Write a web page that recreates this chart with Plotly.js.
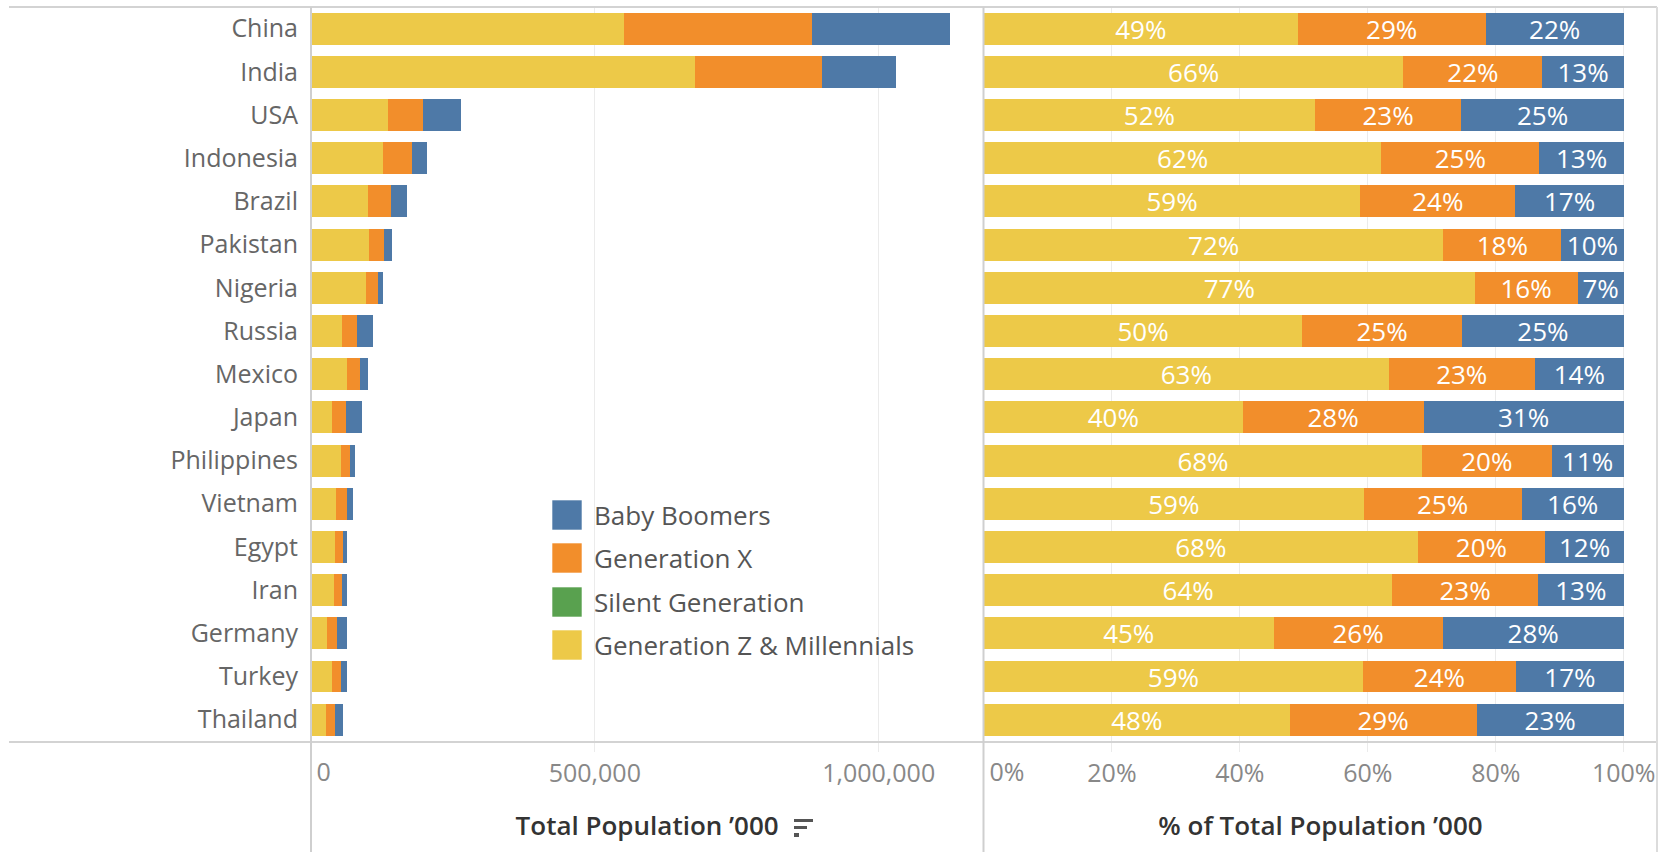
<!DOCTYPE html>
<html>
<head>
<meta charset="utf-8">
<script src="https://cdn.plot.ly/plotly-3.0.1.min.js"></script>
<style>
html,body{margin:0;padding:0;background:#ffffff;}
#chart{width:1667px;height:852px;}
</style>
</head>
<body>
<div id="chart"></div>
<script>
// ---- data (population in thousands) ----
const countries = ["China","India","USA","Indonesia","Brazil","Pakistan","Nigeria","Russia","Mexico","Japan","Philippines","Vietnam","Egypt","Iran","Germany","Turkey","Thailand"];
const genZMillennials = [552000,676000,136500,126700,99700,102900,97700,54300,63800,36300,53400,44200,43100,40400,28600,37300,26600];
const genX            = [331000,224000,60500,50400,41200,26400,20500,27300,23100,25400,15800,18400,12700,14400,16700,15100,16300];
const babyBoomers     = [243000,131000,67000,26900,28700,14000,9200,27600,14000,28100,8800,11900,7800,8500,17900,10600,12800];
const silentGen       = [0,0,0,0,0,0,0,0,0,0,0,0,0,0,0,0,0];
const legendNames = ["Baby Boomers","Generation X","Silent Generation","Generation Z & Millennials"];
const leftTickVals = [500000, 1000000];
const leftTickText = ["500,000", "1,000,000"];
const rightTickVals = [20, 40, 60, 80, 100];
const rightTickText = ["20%", "40%", "60%", "80%", "100%"];
const leftTitle = "Total Population ’000";
const rightTitle = "% of Total Population ’000";

// ---- styling ----
const W = 1667, H = 852;
const FONT = "Open Sans, Lato, sans-serif";
const colors = {
  "Baby Boomers": "#4E79A7",
  "Generation X": "#F28E2B",
  "Silent Generation": "#59A14F",
  "Generation Z & Millennials": "#EDC948"
};
const px = x => x / W;
const py = y => 1 - y / H;

const totals = countries.map((c, i) => genZMillennials[i] + genX[i] + babyBoomers[i] + silentGen[i]);
const pct = arr => arr.map((v, i) => 100 * v / totals[i]);

const stack = [
  {name: "Generation Z & Millennials", vals: genZMillennials, label: true},
  {name: "Silent Generation", vals: silentGen, label: false},
  {name: "Generation X", vals: genX, label: true},
  {name: "Baby Boomers", vals: babyBoomers, label: true}
];

const traces = [];
stack.forEach(s => {
  traces.push({
    type: "bar", orientation: "h",
    x: s.vals, y: countries,
    xaxis: "x", yaxis: "y",
    name: s.name, showlegend: false,
    marker: {color: colors[s.name], line: {width: 0}},
    hoverinfo: "x+y+name"
  });
  const p = pct(s.vals);
  traces.push({
    type: "bar", orientation: "h",
    x: p, y: countries,
    xaxis: "x2", yaxis: "y",
    name: s.name, showlegend: false,
    marker: {color: colors[s.name], line: {width: 0}},
    text: s.label ? p.map(v => Math.round(v) + "%") : null,
    textposition: s.label ? "inside" : "none",
    insidetextanchor: "middle",
    textangle: 0,
    constraintext: "none",
    insidetextfont: {color: "#ffffff", size: 26, family: FONT},
    hoverinfo: "x+y+name"
  });
});
// empty helper traces so the overlaying axes (that carry the left-aligned "0" labels) are drawn
traces.push({type: "scatter", mode: "none", x: [], y: [], xaxis: "x3", yaxis: "y", showlegend: false, hoverinfo: "skip"});
traces.push({type: "scatter", mode: "none", x: [], y: [], xaxis: "x4", yaxis: "y", showlegend: false, hoverinfo: "skip"});

const leftMax = 1184300;
const rightMax = 105.2;
const leftDomain = [px(311), px(983.3)];
const rightDomain = [px(984), px(1657)];
const yDomain = [py(741.3), py(7)];

const tickFont = {family: FONT, size: 25, color: "#888888"};
const gridCol = "#ebebeb";

const shapes = [];
const lineCol = "#d3d3d3";
function hline(y, x0, x1, w, c) { shapes.push({type: "line", xref: "paper", yref: "paper", x0: px(x0), x1: px(x1), y0: py(y), y1: py(y), line: {color: c || lineCol, width: w || 2}}); }
function vline(x, y0, y1, w, c) { shapes.push({type: "line", xref: "paper", yref: "paper", x0: px(x), x1: px(x), y0: py(y0), y1: py(y1), line: {color: c || lineCol, width: w || 2}}); }
hline(7, 9, 1657, 2);
hline(742, 9, 1657, 2);
vline(311, 7, 852, 2, "#cfcfcf");
vline(983.5, 7, 852, 2, "#cfcfcf");
vline(1657, 7, 852, 2, "#dcdcdc");

// sort icon next to left axis title
shapes.push({type: "rect", xref: "paper", yref: "paper", x0: px(794), x1: px(813), y0: py(819), y1: py(822), fillcolor: "#555555", line: {width: 0}});
shapes.push({type: "rect", xref: "paper", yref: "paper", x0: px(794), x1: px(807), y0: py(826), y1: py(829), fillcolor: "#555555", line: {width: 0}});
shapes.push({type: "rect", xref: "paper", yref: "paper", x0: px(794), x1: px(799), y0: py(833), y1: py(837), fillcolor: "#555555", line: {width: 0}});

// legend (manual)
const annotations = [];
const legendTop = [500, 543, 587, 630];
legendNames.forEach((n, i) => {
  shapes.push({type: "rect", xref: "paper", yref: "paper",
    x0: px(552), x1: px(582), y0: py(legendTop[i] + 30), y1: py(legendTop[i]),
    fillcolor: colors[n], line: {color: "rgba(255,255,255,0.6)", width: 1}});
  annotations.push({xref: "paper", yref: "paper", x: px(592), y: py(legendTop[i] + 15),
    xanchor: "left", yanchor: "middle", showarrow: false, text: n,
    font: {family: FONT, size: 26, color: "#555555"}});
});

const zeroAxis = {
  tickvals: [0], ticklabelposition: "outside right",
  showgrid: false, zeroline: false, showline: false,
  ticks: "outside", ticklen: 10, tickcolor: "rgba(0,0,0,0)",
  tickfont: tickFont, ticklabelstandoff: 9, ticklabelshift: 5, fixedrange: true
};

const layout = {
  width: W, height: H,
  margin: {l: 0, r: 0, t: 0, b: 0, pad: 0},
  paper_bgcolor: "#ffffff", plot_bgcolor: "rgba(0,0,0,0)",
  barmode: "stack", bargap: 0.26,
  showlegend: false,
  font: {family: FONT},
  xaxis: {
    domain: leftDomain, range: [0, leftMax], anchor: "y",
    tickvals: leftTickVals, ticktext: leftTickText,
    showgrid: true, gridcolor: gridCol, gridwidth: 1,
    ticks: "outside", ticklen: 10, tickcolor: gridCol,
    zeroline: false, showline: false,
    tickfont: tickFont, ticklabelstandoff: 0,
    title: {text: leftTitle, font: {family: FONT, size: 26, color: "#333333", weight: 600}, standoff: 28},
    fixedrange: true
  },
  xaxis3: Object.assign({overlaying: "x", anchor: "y", range: [0, leftMax], ticktext: ["0"]}, zeroAxis),
  xaxis2: {
    domain: rightDomain, range: [0, rightMax], anchor: "y",
    tickvals: rightTickVals, ticktext: rightTickText,
    showgrid: true, gridcolor: gridCol, gridwidth: 1,
    ticks: "outside", ticklen: 10, tickcolor: gridCol,
    zeroline: false, showline: false,
    tickfont: tickFont, ticklabelstandoff: 0,
    title: {text: rightTitle, font: {family: FONT, size: 26, color: "#333333", weight: 600}, standoff: 28},
    fixedrange: true
  },
  xaxis4: Object.assign({overlaying: "x2", anchor: "y", range: [0, rightMax], ticktext: ["0%"]}, zeroAxis),
  yaxis: {
    domain: yDomain, anchor: "x",
    type: "category", categoryorder: "array", categoryarray: countries,
    autorange: "reversed",
    showgrid: false, zeroline: false, showline: false, ticks: "",
    tickfont: {family: FONT, size: 25, color: "#666666"},
    ticklabelstandoff: 12,
    fixedrange: true
  },
  shapes: shapes,
  annotations: annotations
};

Plotly.newPlot("chart", traces, layout, {displayModeBar: false, staticPlot: true});
</script>
</body>
</html>
